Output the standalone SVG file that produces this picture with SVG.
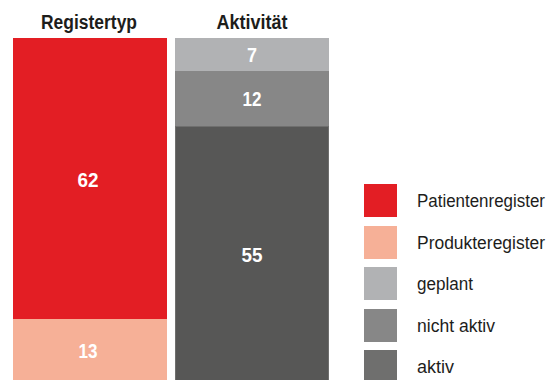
<svg xmlns="http://www.w3.org/2000/svg" width="554" height="380" viewBox="0 0 554 380">
<style>
.h{font-family:"Liberation Sans",Arial,sans-serif;font-size:20px;font-weight:bold;fill:#1d1d1b;text-anchor:middle}
.n{font-family:"Liberation Sans",Arial,sans-serif;font-size:20px;font-weight:bold;fill:#ffffff;text-anchor:middle}
.l{font-family:"Liberation Sans",Arial,sans-serif;font-size:17.5px;fill:#1d1d1b}
</style>
<rect width="554" height="380" fill="#ffffff"/>
<g id="headers">
<text class="h" x="89" y="29" textLength="96" lengthAdjust="spacingAndGlyphs">Registertyp</text>
<text class="h" x="252" y="29" textLength="71" lengthAdjust="spacingAndGlyphs">Aktivität</text>
</g>
<g id="bar-registertyp">
<g id="seg-patientenregister"><rect x="13" y="38" width="154" height="281" fill="#e31e24"/><text class="n" x="88" y="187" textLength="21" lengthAdjust="spacingAndGlyphs">62</text></g>
<g id="seg-produkteregister"><rect x="13" y="319" width="154" height="61" fill="#f6b097"/><text class="n" x="88" y="358" textLength="19" lengthAdjust="spacingAndGlyphs">13</text></g>
</g>
<g id="bar-aktivitaet">
<g id="seg-geplant"><rect x="175" y="38" width="154" height="33" fill="#b1b2b4"/><text class="n" x="252" y="62" textLength="10" lengthAdjust="spacingAndGlyphs">7</text></g>
<g id="seg-nicht-aktiv"><rect x="175" y="71" width="154" height="55" fill="#878787"/><text class="n" x="252" y="106" textLength="19" lengthAdjust="spacingAndGlyphs">12</text></g>
<g id="seg-aktiv"><rect x="175.5" y="126.5" width="153" height="254" fill="#575756" stroke="#6f6f6e" stroke-width="1"/><text class="n" x="252" y="262" textLength="21" lengthAdjust="spacingAndGlyphs">55</text></g>
</g>
<g id="legend">
<g id="leg-patientenregister"><rect x="364" y="184" width="33" height="33" fill="#e31e24"/><text class="l" x="417" y="207" textLength="128" lengthAdjust="spacingAndGlyphs">Patientenregister</text></g>
<g id="leg-produkteregister"><rect x="364" y="226" width="33" height="33" fill="#f6b097"/><text class="l" x="417" y="249" textLength="128" lengthAdjust="spacingAndGlyphs">Produkteregister</text></g>
<g id="leg-geplant"><rect x="364" y="267" width="33" height="33" fill="#b1b2b4"/><text class="l" x="417" y="290" textLength="56" lengthAdjust="spacingAndGlyphs">geplant</text></g>
<g id="leg-nicht-aktiv"><rect x="364" y="309" width="33" height="33" fill="#878787"/><text class="l" x="417" y="332" textLength="78" lengthAdjust="spacingAndGlyphs">nicht aktiv</text></g>
<g id="leg-aktiv"><rect x="364" y="350" width="33" height="33" fill="#6f6f6e"/><text class="l" x="417" y="373" textLength="37" lengthAdjust="spacingAndGlyphs">aktiv</text></g>
</g>
<g id="connectors"/>
</svg>
